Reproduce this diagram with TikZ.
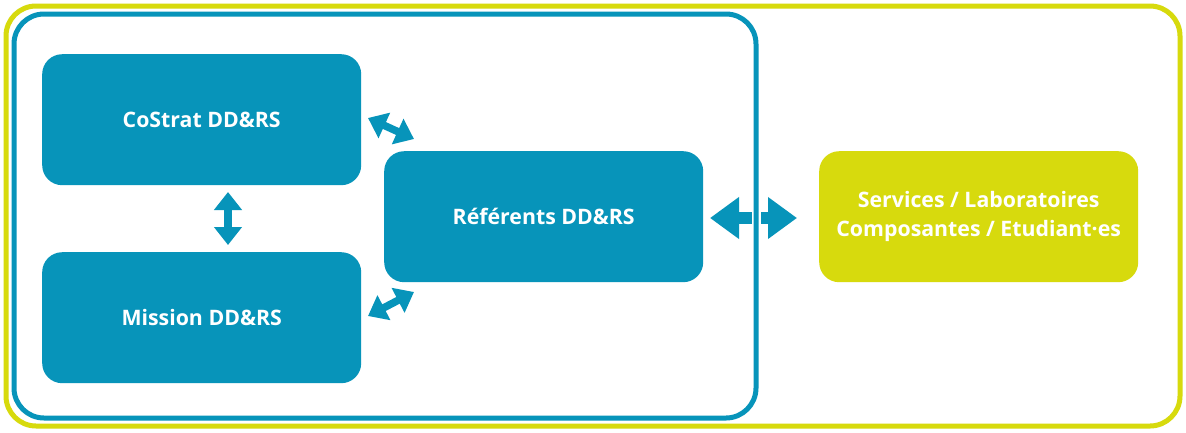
\documentclass[tikz,border=0pt]{standalone}
\usepackage{fontspec}
\setmainfont{Open Sans}
\usetikzlibrary{arrows.meta}
\definecolor{dblue}{HTML}{0794BA}
\definecolor{dyel}{HTML}{D7DA0D}
\tikzset{
  box/.style={rounded corners=20pt, fill=dblue, draw=none, text=white,
    font=\bfseries\fontsize{21.3}{29.5}\selectfont, align=center,
    minimum width=319pt, minimum height=131pt, inner sep=0pt, anchor=north west},
  ybox/.style={box, fill=dyel},
  darr/.style={line width=7.5pt, draw=dblue,
    {Triangle[width=27pt,length=18pt]}-{Triangle[width=27pt,length=18pt]}},
  bigarr/.style={line width=12pt, draw=dblue,
    {Triangle[width=40pt,length=29pt]}-{Triangle[width=40pt,length=29pt]}},
}
\begin{document}
\begin{tikzpicture}[x=1pt,y=-1pt]
\useasboundingbox (0,0) rectangle (1186,432);
\fill[white] (0,0) rectangle (1186,432);
% outer yellow frame
\draw[dyel, line width=5pt, rounded corners=30pt] (6,6) rectangle (1180,426);
% boxes
\node[box] (costrat) at (42,54) {CoStrat DD\&RS};
\node[box] (mission) at (42,252) {Mission DD\&RS};
\node[box] (ref) at (384,151) {Référents DD\&RS};
\node[ybox] (serv) at (819,151) {Services / Laboratoires\\Composantes / Etudiant·es};
% arrows
\coordinate (a1) at (368,118); \coordinate (b1) at (414,139);
\coordinate (a2) at (368,316); \coordinate (b2) at (414,292);
\coordinate (a3) at (228,192); \coordinate (b3) at (228,245);
\coordinate (a4) at (710,218); \coordinate (b4) at (797,218);
\draw[darr] (a1) -- (b1);
\draw[darr] (a2) -- (b2);
\draw[darr] (a3) -- (b3);
\draw[bigarr] (a4) -- (b4);
% inner blue frame with white gap over arrow
\draw[white, line width=9pt] (756,195) -- (756,241);
\draw[dblue, line width=5pt, rounded corners=30pt] (14,14) rectangle (756,418);
\end{tikzpicture}
\end{document}
